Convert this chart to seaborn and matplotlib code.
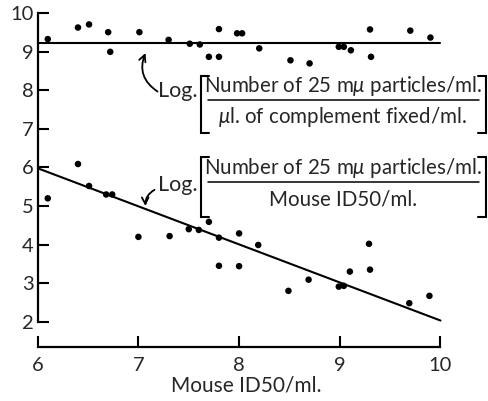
import matplotlib
matplotlib.use("Agg")
import matplotlib.pyplot as plt
import seaborn as sns
import pandas as pd
import numpy as np

# Mouse ID50/ml. (log) for each preparation
mouse_id50 = [6.10, 6.40, 6.51, 6.70, 6.72, 7.01, 7.30, 7.51, 7.61, 7.70, 7.80, 7.80,
              7.98, 8.03, 8.20, 8.51, 8.70, 8.99, 9.04, 9.11, 9.30, 9.31, 9.70, 9.90]
# log(particles / complement fixed)
cf_ratio = [9.33, 9.63, 9.71, 9.51, 9.00, 9.51, 9.31, 9.21, 9.19, 8.87, 8.87, 9.59,
            9.48, 9.48, 9.09, 8.78, 8.70, 9.13, 9.13, 9.04, 9.58, 8.87, 9.55, 9.37]
# x values for the infectivity ratio series
mouse_id50_b = [6.10, 6.40, 6.51, 6.68, 6.74, 7.00, 7.31, 7.50, 7.60, 7.70, 7.80, 7.80,
                8.00, 8.00, 8.19, 8.49, 8.69, 8.99, 9.04, 9.10, 9.29, 9.30, 9.69, 9.89]
# log(particles / mouse ID50)
id50_ratio = [5.20, 6.09, 5.52, 5.30, 5.30, 4.20, 4.22, 4.40, 4.38, 4.59, 4.18, 3.45,
              4.29, 3.44, 3.99, 2.80, 3.09, 2.91, 2.93, 3.30, 4.02, 3.35, 2.48, 2.67]

cf_mean = 9.24              # mean level of the complement-fixation ratio
fit_slope = -0.9875          # fitted line for the infectivity ratio
fit_intercept = 11.905
fit_range = [6, 10]

x_ticks = [6, 7, 8, 9, 10]
y_ticks = [2, 3, 4, 5, 6, 7, 8, 9, 10]

sns.set_theme(style="ticks")
plt.rcParams["font.family"] = ["Lato", "DejaVu Sans"]
plt.rcParams["mathtext.fontset"] = "custom"
plt.rcParams["mathtext.rm"] = "Lato"
plt.rcParams["mathtext.it"] = "Lato:italic"

fig = plt.figure(figsize=(4.89, 4.01), dpi=100)
ax = fig.add_axes([0.0771, 0.1347, 0.8546, 0.8322])

pts = pd.DataFrame({
    "x": mouse_id50 + mouse_id50_b,
    "y": cf_ratio + id50_ratio,
})
sns.scatterplot(data=pts, x="x", y="y", ax=ax, color="black", s=22,
                edgecolor="none", linewidth=0, clip_on=False, zorder=3)

lines = pd.DataFrame({
    "x": fit_range + fit_range,
    "y": [cf_mean, cf_mean] + [fit_intercept + fit_slope * v for v in fit_range],
    "series": ["cf", "cf", "id", "id"],
})
sns.lineplot(data=lines, x="x", y="y", units="series", estimator=None, ax=ax,
             color="black", lw=1.5, legend=False)

ax.set_xlim(6, 10.15)
ax.set_ylim(1.344, 10.0)
ax.set_xticks(x_ticks)
ax.set_yticks(y_ticks)
ax.set_xticklabels([str(t) for t in x_ticks], fontsize=14.5)
ax.set_yticklabels([str(t) for t in y_ticks], fontsize=14.5)
ax.tick_params(axis="both", direction="in", length=8, width=1.5, color="black")
ax.tick_params(axis="x", pad=7)
ax.tick_params(axis="y", pad=3)
ax.set_xlabel("Mouse ID50/ml.", fontsize=15, labelpad=1)
ax.set_ylabel("")

for side in ["top", "right"]:
    ax.spines[side].set_visible(False)
ax.spines["left"].set_bounds(2, 10)
ax.spines["bottom"].set_bounds(6, 10)
for side in ["left", "bottom"]:
    ax.spines[side].set_linewidth(1.6)
    ax.spines[side].set_color("black")


def bracket(x, y0, y1, w, side):
    d = w if side == "left" else -w
    ax.plot([x + d, x, x, x + d], [y0, y0, y1, y1], color="black", lw=1.5,
            clip_on=False, solid_joinstyle="miter")


def fraction(xc, y_bar, x0, x1, num, den, bl, br, ylo, yhi, log_x, log_y):
    ax.text(log_x, log_y, "Log.", ha="right", va="center", fontsize=15.5)
    ax.text(xc, y_bar + 0.36, num, ha="center", va="center", fontsize=14.8)
    ax.plot([x0, x1], [y_bar, y_bar], color="black", lw=1.1, clip_on=False)
    ax.text(xc, y_bar - 0.44, den, ha="center", va="center", fontsize=14.8)
    bracket(bl, ylo, yhi, 0.08, "left")
    bracket(br, ylo, yhi, 0.08, "right")


num_text = r"Number of 25 m$\mu$ particles/ml."
fraction(9.03, 7.76, 7.69, 10.38, num_text,
         r"$\mu$l. of complement fixed/ml.",
         7.62, 10.45, 6.89, 8.36, 7.59, 7.98)
fraction(9.03, 5.62, 7.69, 10.38, num_text,
         "Mouse ID50/ml.",
         7.62, 10.45, 4.71, 6.26, 7.59, 5.55)

ax.annotate("", xy=(7.07, 8.97), xytext=(7.19, 7.97),
            arrowprops=dict(arrowstyle="->", color="black", lw=1.3,
                            connectionstyle="arc3,rad=-0.4",
                            shrinkA=0, shrinkB=0))
ax.annotate("", xy=(7.07, 5.00), xytext=(7.16, 5.42),
            arrowprops=dict(arrowstyle="->", color="black", lw=1.3,
                            connectionstyle="arc3,rad=0.3",
                            shrinkA=0, shrinkB=0))

fig.savefig("out.png", dpi=100, facecolor="white")
